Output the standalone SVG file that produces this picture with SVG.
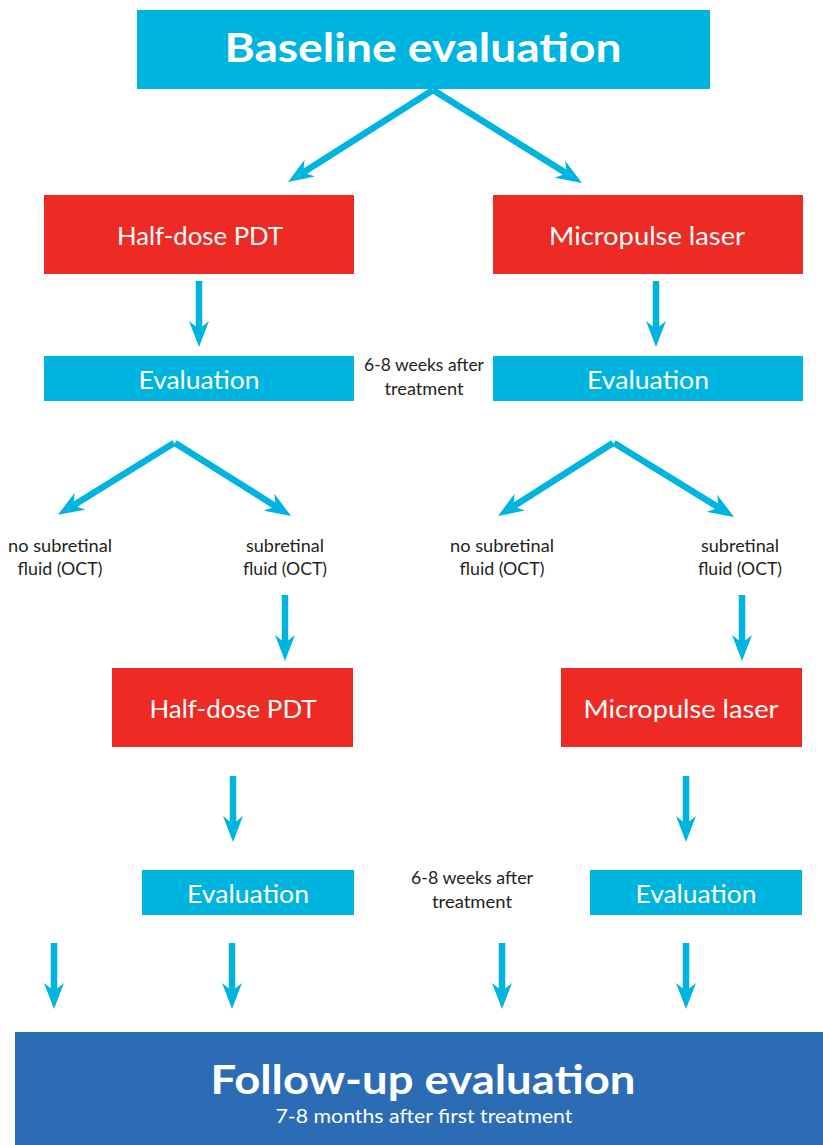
<svg xmlns="http://www.w3.org/2000/svg" width="823" height="1145" viewBox="0 0 823 1145">
<style>
.cyan{fill:#00B4E0}
.red{fill:#EE2A24}
.navy{fill:#2B6CB4}
.t{font-family:Lato,"Open Sans","Liberation Sans",sans-serif;fill:#fff;text-anchor:middle}
.big{font-size:41px;font-weight:bold}
.mid{font-size:25px}
.sm{font-family:Lato,"Open Sans","Liberation Sans",sans-serif;fill:#231F20;font-size:16.5px;text-anchor:middle}
.arr{stroke:#00B4E0;stroke-width:6.5;fill:none;marker-end:url(#ah)}
</style>
<defs>
<marker id="ah" viewBox="0 -10 26 20" refX="8" refY="0" markerWidth="26" markerHeight="20" markerUnits="userSpaceOnUse" orient="auto">
<path d="M26,0 L0,-10 L8,0 L0,10 Z" fill="#00B4E0"/>
</marker>
</defs>
<rect width="823" height="1145" fill="#fff"/>
<g id="baseline">
<rect class="cyan" x="137" y="10" width="573" height="79"/>
<text class="t big" x="423" y="62" textLength="397" lengthAdjust="spacingAndGlyphs">Baseline evaluation</text>
</g>
<g id="pdt1">
<rect class="red" x="44" y="195" width="310" height="79"/>
<text class="t mid" x="200" y="245" textLength="166" lengthAdjust="spacingAndGlyphs">Half-dose PDT</text>
</g>
<g id="laser1">
<rect class="red" x="493" y="195" width="310" height="79"/>
<text class="t mid" x="647" y="245" textLength="196" lengthAdjust="spacingAndGlyphs">Micropulse laser</text>
</g>
<g id="eval1l">
<rect class="cyan" x="44" y="356" width="310" height="45"/>
<text class="t mid" x="199" y="389" textLength="121" lengthAdjust="spacingAndGlyphs">Evaluation</text>
</g>
<g id="eval1r">
<rect class="cyan" x="493" y="356" width="310" height="45"/>
<text class="t mid" x="648" y="389" textLength="122" lengthAdjust="spacingAndGlyphs">Evaluation</text>
</g>
<g id="note1">
<text class="sm" x="424" y="371" textLength="120" lengthAdjust="spacingAndGlyphs">6-8 weeks after</text>
<text class="sm" x="424" y="395" textLength="79" lengthAdjust="spacingAndGlyphs">treatment</text>
</g>
<g id="lbl1">
<text class="sm" x="60" y="552" textLength="104" lengthAdjust="spacingAndGlyphs">no subretinal</text>
<text class="sm" x="60" y="575" textLength="85" lengthAdjust="spacingAndGlyphs">fluid (OCT)</text>
</g>
<g id="lbl2">
<text class="sm" x="285" y="552" textLength="78" lengthAdjust="spacingAndGlyphs">subretinal</text>
<text class="sm" x="285" y="575" textLength="84" lengthAdjust="spacingAndGlyphs">fluid (OCT)</text>
</g>
<g id="lbl3">
<text class="sm" x="502" y="552" textLength="104" lengthAdjust="spacingAndGlyphs">no subretinal</text>
<text class="sm" x="502" y="575" textLength="85" lengthAdjust="spacingAndGlyphs">fluid (OCT)</text>
</g>
<g id="lbl4">
<text class="sm" x="740" y="552" textLength="78" lengthAdjust="spacingAndGlyphs">subretinal</text>
<text class="sm" x="740" y="575" textLength="84" lengthAdjust="spacingAndGlyphs">fluid (OCT)</text>
</g>
<g id="pdt2">
<rect class="red" x="112" y="668" width="241" height="79"/>
<text class="t mid" x="233" y="718" textLength="167" lengthAdjust="spacingAndGlyphs">Half-dose PDT</text>
</g>
<g id="laser2">
<rect class="red" x="561" y="668" width="241" height="79"/>
<text class="t mid" x="681" y="718" textLength="195" lengthAdjust="spacingAndGlyphs">Micropulse laser</text>
</g>
<g id="eval2l">
<rect class="cyan" x="142" y="870" width="212" height="45"/>
<text class="t mid" x="248" y="903" textLength="122" lengthAdjust="spacingAndGlyphs">Evaluation</text>
</g>
<g id="eval2r">
<rect class="cyan" x="590" y="870" width="212" height="45"/>
<text class="t mid" x="696" y="903" textLength="121" lengthAdjust="spacingAndGlyphs">Evaluation</text>
</g>
<g id="note2">
<text class="sm" x="472" y="884" textLength="122" lengthAdjust="spacingAndGlyphs">6-8 weeks after</text>
<text class="sm" x="472" y="908" textLength="80" lengthAdjust="spacingAndGlyphs">treatment</text>
</g>
<g id="followup">
<rect class="navy" x="15" y="1032" width="808" height="113"/>
<text class="t big" x="423" y="1094" textLength="425" lengthAdjust="spacingAndGlyphs">Follow-up evaluation</text>
<text class="t" x="424" y="1123" font-size="18.5" textLength="297" lengthAdjust="spacingAndGlyphs">7-8 months after first treatment</text>
</g>
<g id="connectors">
<line class="arr" x1="433" y1="90" x2="303.2" y2="172.4"/>
<line class="arr" x1="433" y1="90" x2="566.7" y2="173.5"/>
<line class="arr" x1="199" y1="281" x2="199" y2="329"/>
<line class="arr" x1="656" y1="281" x2="656" y2="329"/>
<line class="arr" x1="174" y1="443" x2="73.2" y2="505.4"/>
<line class="arr" x1="175" y1="443" x2="275.8" y2="506.4"/>
<line class="arr" x1="613" y1="443" x2="513.2" y2="506.4"/>
<line class="arr" x1="614" y1="443" x2="718.7" y2="507.5"/>
<line class="arr" x1="285" y1="595" x2="285" y2="643"/>
<line class="arr" x1="742" y1="595" x2="742" y2="643"/>
<line class="arr" x1="233" y1="776" x2="233" y2="824"/>
<line class="arr" x1="686" y1="776" x2="686" y2="824"/>
<line class="arr" x1="54" y1="943" x2="54" y2="991"/>
<line class="arr" x1="232" y1="943" x2="232" y2="991"/>
<line class="arr" x1="502" y1="943" x2="502" y2="991"/>
<line class="arr" x1="686" y1="943" x2="686" y2="991"/>
</g>
</svg>
